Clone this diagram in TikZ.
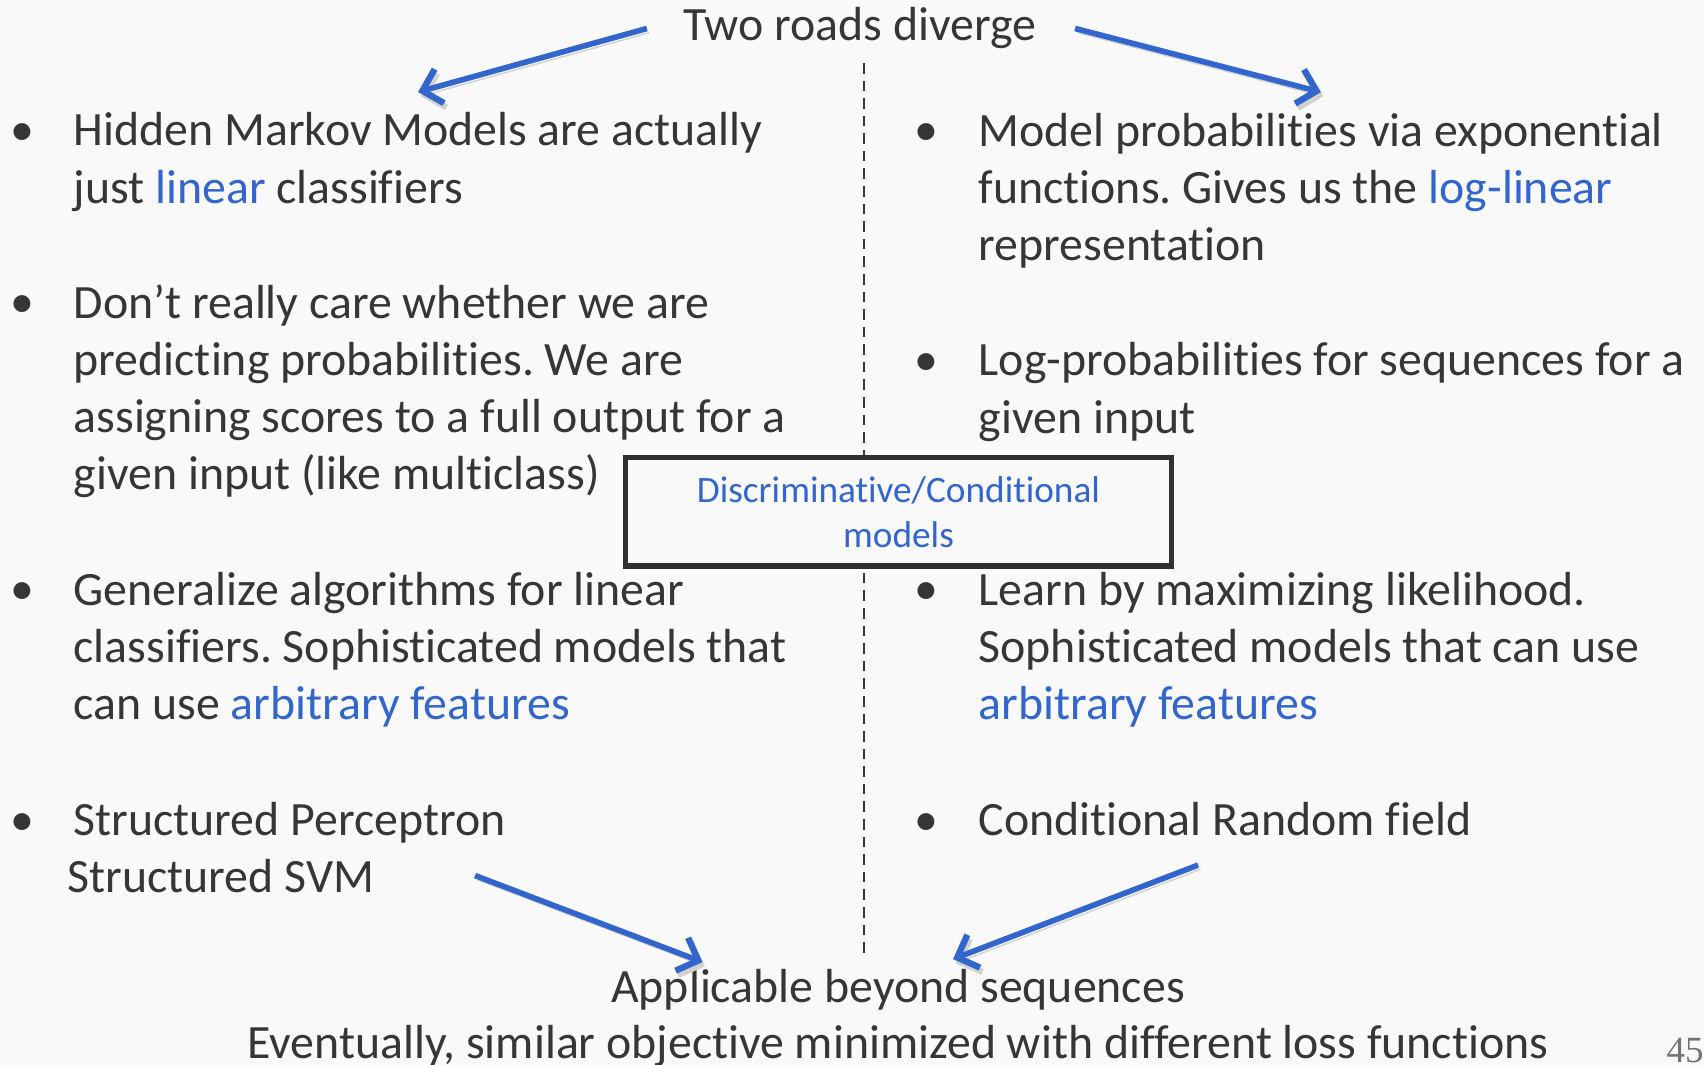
\documentclass[tikz,border=0pt]{standalone}
\usepackage{fontspec}
\setmainfont{Carlito}[Ligatures={NoCommon}]
\newfontfamily\pagefont{Liberation Serif}
\usetikzlibrary{arrows.meta,positioning}
\frenchspacing

\definecolor{slidebg}{HTML}{F9F9F9}
\definecolor{ink}{HTML}{363636}
\definecolor{accent}{HTML}{3366CC}
\newcommand{\hl}[1]{\textcolor{accent}{#1}}

\tikzset{
  body/.style={inner sep=0pt, anchor=base west, align=left, text=ink,
    font=\fontsize{13.6}{16.3}\selectfont},
  dot/.style={inner sep=0pt, anchor=base, text=ink,
    font=\fontsize{13.6}{16.3}\selectfont},
  road/.style={accent, line width=1.6pt,
    -{Straight Barb[length=5pt,width=10pt,line width=1.8pt]},
    preaction={draw=black!18, transform canvas={shift={(0.7pt,-1.2pt)}}}},
}

\begin{document}
\begin{tikzpicture}[x=0.01cm, y=-0.01cm]
% slide background
\fill[slidebg] (0,0) rectangle (1704,1065);
\useasboundingbox (0,0) rectangle (1704,1065);

% heading
\node[body, anchor=base] (roads) at (860,41) {Two roads diverge};

% column separator
\draw[ink, dash pattern=on 3pt off 2pt, line width=0.6pt] (864,63) -- (864,956);

% bullets
\foreach \y/\n in {146/1,318/2,605/3,835/4}
  \node[dot] (ldot\n) at (22,\y) {•};
\foreach \y/\n in {146/1,376/2,605/3,835/4}
  \node[dot] (rdot\n) at (926,\y) {•};

% left column (base = last line)
\node[body] (lb1) at (73,203.3) {Hidden Markov Models are actually\\just \hl{linear} classifiers};
\node[body] (lb2) at (73,490) {Don’t really care whether we are\\predicting probabilities. We are\\assigning scores to a full output for a\\given input (like multiclass)};
\node[body] (lb3) at (73,719.7) {Generalize algorithms for linear\\classifiers. Sophisticated models that\\can use \hl{arbitrary features}};
\node[body] (lb4) at (73,835) {Structured Perceptron};
\node[body] (lb5) at (67,892) {Structured SVM};

% right column
\node[body] (rb1) at (978,260.7) {Model probabilities via exponential\\functions. Gives us the \hl{log-linear}\\representation};
\node[body] (rb2) at (978,433.3) {Log-probabilities for sequences for a\\given input};
\node[body] (rb3) at (978,719.7) {Learn by maximizing likelihood.\\Sophisticated models that can use\\\hl{arbitrary features}};
\node[body] (rb4) at (978,835) {Conditional Random field};

% middle box
\node[draw=ink!90!black, line width=1.5pt, fill=slidebg, minimum width=5.45cm,
  minimum height=1.085cm, align=center, text=accent,
  font=\fontsize{10.6}{12.8}\selectfont] (disc) at (898.5,511.75)
  {Discriminative/Conditional\\models};

% bottom lines
\node[body, anchor=base] (beyond) at (898,1002) {Applicable beyond sequences};
\node[body, anchor=base] (loss) at (898,1058) {Eventually, similar objective minimized with different loss functions};

% page number
\node[inner sep=0pt, anchor=base west, text=black!55,
  font=\pagefont\fontsize{10.5}{12}\selectfont] (pageno) at (1666,1062) {45};

% arrows
\draw[road] ([xshift=-0.36cm]roads.west) -- ([yshift=0.2cm]lb1.north);
\draw[road] ([xshift=0.38cm]roads.east) -- ([yshift=0.2cm]rb1.north);
\draw[road] ([xshift=1cm]lb5.east) -- ([xshift=0.92cm,yshift=0.06cm]beyond.north west);
\draw[road] ([xshift=-0.27cm,yshift=-0.29cm]rb4.south) -- ([xshift=0.55cm,yshift=0.09cm]beyond.north);

\end{tikzpicture}
\end{document}
